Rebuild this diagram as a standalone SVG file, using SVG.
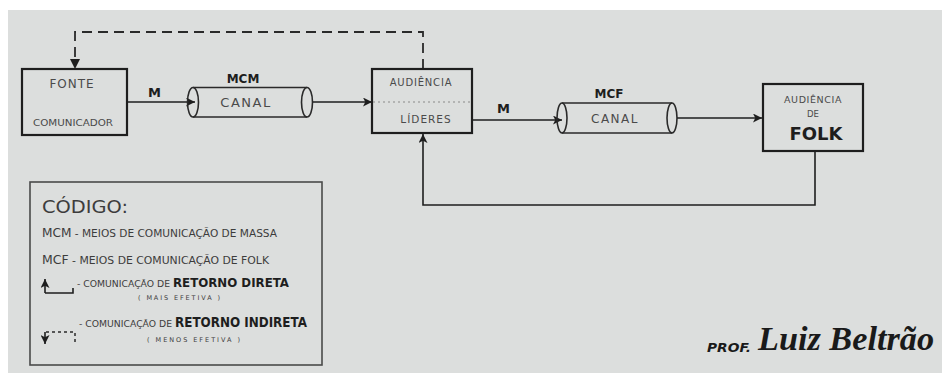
<svg xmlns="http://www.w3.org/2000/svg" width="942" height="373" viewBox="0 0 942 373">
<style>
.bg{fill:#dcdedd}
.box{fill:none;stroke:#1e1e1e;stroke-width:2.2}
.ln{fill:none;stroke:#1e1e1e;stroke-width:1.6}
.dash{fill:none;stroke:#2a2a2a;stroke-width:1.8;stroke-dasharray:10 6}
.dot{fill:none;stroke:#8a8a8a;stroke-width:1.2;stroke-dasharray:2 3}
.cyl{fill:none;stroke:#2a2a2a;stroke-width:1.6}
.t{font-family:"DejaVu Sans","Liberation Sans",sans-serif;fill:#4a4a4a}
.b{font-family:"DejaVu Sans","Liberation Sans",sans-serif;fill:#1e1e1e;font-weight:bold}
.lg{font-family:"DejaVu Sans","Liberation Sans",sans-serif;fill:#3c3c3c}
.sig{font-family:"Liberation Serif","DejaVu Serif",serif;font-style:italic;font-weight:bold;fill:#1a1a1a}
.prof{font-family:"DejaVu Sans","Liberation Sans",sans-serif;font-style:italic;font-weight:bold;fill:#1a1a1a}
</style>
<defs>
<marker id="ah" viewBox="0 0 10 10" refX="10" refY="5" markerWidth="9" markerHeight="9" markerUnits="userSpaceOnUse" orient="auto">
<path d="M0,0 L10,5 L0,10 L2.5,5 Z" fill="#1e1e1e"/>
</marker>
</defs>
<rect x="0" y="0" width="942" height="373" fill="#ffffff"/>
<rect class="bg" x="8" y="10" width="934" height="363"/>

<g id="connectors">
<path class="dash" d="M423,69 V32 H75 V61"/>
<path d="M70,59 L75,69 L80,59 Z" fill="#1e1e1e"/>
<line class="ln" x1="127" y1="102" x2="195" y2="102" marker-end="url(#ah)"/>
<line class="ln" x1="313" y1="102" x2="372" y2="102" marker-end="url(#ah)"/>
<line class="ln" x1="472" y1="120" x2="562" y2="120" marker-end="url(#ah)"/>
<line class="ln" x1="677" y1="118" x2="762" y2="118" marker-end="url(#ah)"/>
<path class="ln" d="M815,151 V205 H423 V134" marker-end="url(#ah)"/>
<text class="b" x="148" y="97" font-size="13">M</text>
<text class="b" x="497" y="113" font-size="13">M</text>
</g>

<g id="fonte">
<rect class="box" x="22" y="69" width="105" height="66"/>
<text class="t" x="72" y="88" font-size="12" text-anchor="middle" letter-spacing="1">FONTE</text>
<text class="t" x="73" y="126" font-size="9" text-anchor="middle" textLength="80" lengthAdjust="spacingAndGlyphs">COMUNICADOR</text>
</g>

<g id="mcm">
<path class="cyl" d="M193,87.5 H307 M193,117 H307"/>
<ellipse class="cyl" cx="193" cy="102.25" rx="5.5" ry="14.75"/>
<ellipse class="cyl" cx="307" cy="102.25" rx="5.5" ry="14.75"/>
<text class="b" x="243" y="83" font-size="12" text-anchor="middle">MCM</text>
<text class="t" x="246" y="107" font-size="13" text-anchor="middle" letter-spacing="1.5">CANAL</text>
</g>

<g id="audiencia-lideres">
<rect class="box" x="372" y="69" width="100" height="64"/>
<line class="dot" x1="373" y1="102" x2="471" y2="102"/>
<text class="t" x="421" y="86" font-size="10" text-anchor="middle" letter-spacing="0.8">AUDIÊNCIA</text>
<text class="t" x="426" y="123" font-size="10.5" text-anchor="middle" letter-spacing="1">LÍDERES</text>
</g>

<g id="mcf">
<path class="cyl" d="M562,103 H672 M562,133 H672"/>
<ellipse class="cyl" cx="562" cy="118" rx="5" ry="15"/>
<ellipse class="cyl" cx="672" cy="118" rx="5" ry="15"/>
<text class="b" x="609" y="98" font-size="12" text-anchor="middle">MCF</text>
<text class="t" x="615" y="123" font-size="12" text-anchor="middle" letter-spacing="1.5">CANAL</text>
</g>

<g id="audiencia-folk">
<rect class="box" x="763" y="84" width="100" height="67"/>
<text class="t" x="813" y="103" font-size="9.5" text-anchor="middle" letter-spacing="0.6">AUDIÊNCIA</text>
<text class="t" x="813" y="117" font-size="8.5" text-anchor="middle">DE</text>
<text class="b" x="816" y="140" font-size="18" text-anchor="middle" fill="#1a1a1a" style="font-weight:600">FOLK</text>
</g>

<g id="legend">
<rect x="30" y="182" width="292" height="183" fill="none" stroke="#4a4a4a" stroke-width="1.6"/>
<text class="lg" x="42" y="213" font-size="18" fill="#262626" textLength="86" lengthAdjust="spacingAndGlyphs">CÓDIGO:</text>
<text class="lg" x="42" y="237" font-size="10" textLength="235" lengthAdjust="spacingAndGlyphs"><tspan font-size="11.5">MCM</tspan> - MEIOS DE COMUNICAÇÃO DE MASSA</text>
<text class="lg" x="42" y="264" font-size="10" textLength="227" lengthAdjust="spacingAndGlyphs"><tspan font-size="11.5">MCF</tspan> - MEIOS DE COMUNICAÇÃO DE FOLK</text>
<path class="ln" d="M45,293 H73 V288" />
<line class="ln" x1="45" y1="293" x2="45" y2="279" marker-end="url(#ah)"/>
<text class="lg" x="77" y="287" font-size="8" textLength="93" lengthAdjust="spacingAndGlyphs">- COMUNICAÇÃO DE</text>
<text class="b" x="173" y="287" font-size="13" textLength="116" lengthAdjust="spacingAndGlyphs">RETORNO DIRETA</text>
<text class="lg" x="138" y="300" font-size="6.5" textLength="82">( MAIS EFETIVA )</text>
<path fill="none" stroke="#2a2a2a" stroke-width="1.5" stroke-dasharray="3 3" d="M46,332 H75 V345"/>
<line class="ln" x1="45" y1="332" x2="45" y2="344" marker-end="url(#ah)"/>
<text class="lg" x="79" y="327" font-size="8" textLength="93" lengthAdjust="spacingAndGlyphs">- COMUNICAÇÃO DE</text>
<text class="b" x="175" y="327" font-size="14" textLength="132" lengthAdjust="spacingAndGlyphs">RETORNO INDIRETA</text>
<text class="lg" x="147" y="342" font-size="6.5" textLength="93">( MENOS EFETIVA )</text>
</g>

<text class="prof" x="707" y="352" font-size="13" textLength="44" lengthAdjust="spacingAndGlyphs">PROF.</text>
<text class="sig" x="758" y="350" font-size="34" textLength="176" lengthAdjust="spacingAndGlyphs">Luiz Beltrão</text>
</svg>
